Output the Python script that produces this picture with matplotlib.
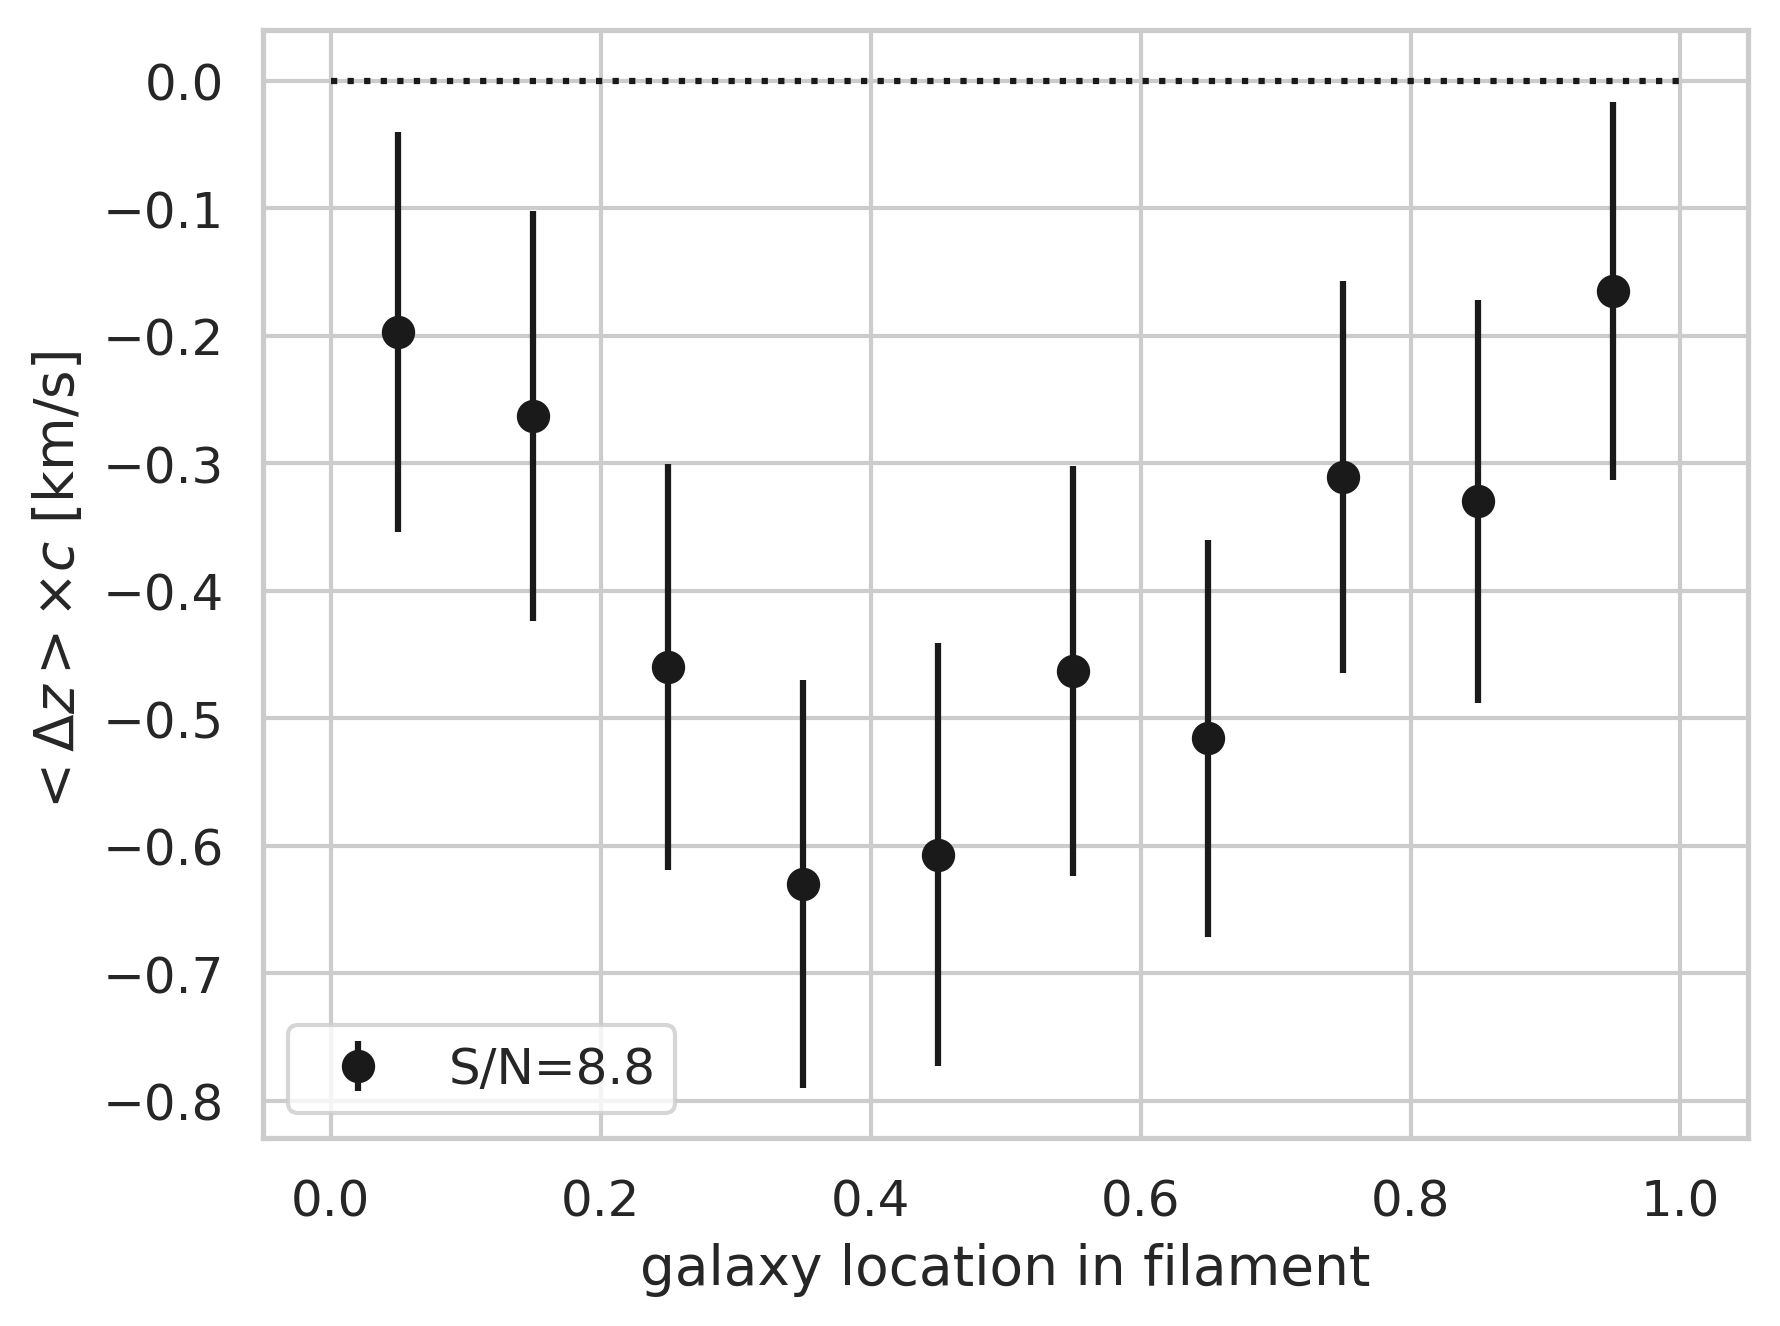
import matplotlib
matplotlib.use("Agg")
import matplotlib.pyplot as plt
import seaborn as sns
import numpy as np

# data
x_pos = [0.05, 0.15, 0.25, 0.35, 0.45, 0.55, 0.65, 0.75, 0.85, 0.95]
mean_dz = [-0.197, -0.263, -0.460, -0.630, -0.607, -0.463, -0.516, -0.311, -0.330, -0.165]
err_dz = [0.157, 0.161, 0.159, 0.160, 0.166, 0.161, 0.156, 0.154, 0.158, 0.148]
ref_x = [0.0, 1.0]
ref_y = [0.0, 0.0]
legend_label = "S/N=8.8"

sns.set_theme(style="whitegrid")
plt.rcParams['font.family'] = ['DejaVu Sans']
plt.rcParams.update({
    'xtick.labelsize': 12, 'ytick.labelsize': 12,
    'axes.labelsize': 13.2, 'legend.fontsize': 12,
})

fig, ax = plt.subplots(figsize=(1780/300, 1327/300), dpi=300)
ax.plot(ref_x, ref_y, ':', color='#1a1a1a', lw=1.5)
ax.errorbar(x_pos, mean_dz, yerr=err_dz, fmt='o', color='#1a1a1a',
            ms=7, elinewidth=1.5, label=legend_label)
ax.set_xlabel("galaxy location in filament")
ax.set_ylabel(r"$<\Delta z>\times c$ [km/s]")
ax.legend(loc='lower left')
fig.subplots_adjust(left=0.148, right=0.982, top=0.9765, bottom=0.1415)
fig.savefig("out.png", dpi=300)
